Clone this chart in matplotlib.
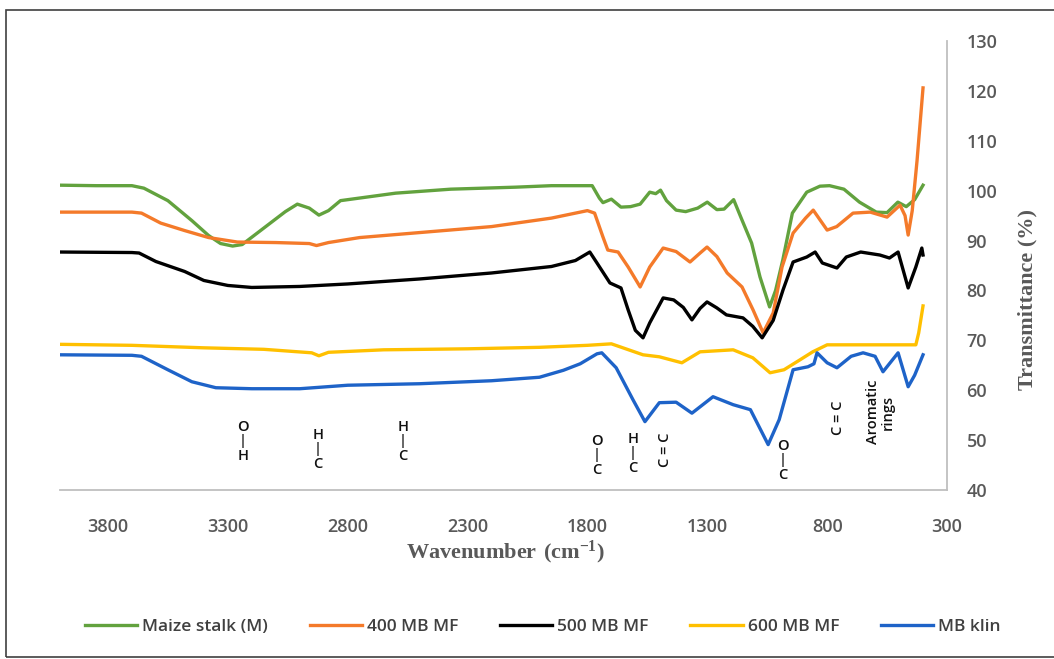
import matplotlib
matplotlib.use('Agg')
import matplotlib.pyplot as plt
from matplotlib.patches import Rectangle

plt.rcParams['font.family'] = ['Open Sans', 'DejaVu Sans']
plt.rcParams['mathtext.fontset'] = 'custom'
plt.rcParams['mathtext.rm'] = 'Liberation Serif:bold'
plt.rcParams['mathtext.bf'] = 'Liberation Serif:bold'

# ---- data (wavenumber cm-1, transmittance %) ----
maize_wn = [4000, 3850, 3700, 3650, 3550, 3450, 3380, 3330, 3280, 3240, 3150, 3060, 3010, 2960,
            2920, 2880, 2830, 2600, 2370, 2100, 1950, 1780, 1750, 1735, 1700, 1660, 1620, 1580,
            1540, 1515, 1495, 1470, 1430, 1390, 1340, 1300, 1260, 1230, 1190, 1155, 1115, 1080,
            1040, 1015, 985, 945, 885, 830, 790, 730, 665, 595, 550, 505, 470, 435, 400]
maize_t = [101.1, 101.0, 101.0, 100.5, 98, 94, 91, 89.4, 88.9, 89.2, 92.5, 95.8, 97.3, 96.5,
           95.1, 96, 98, 99.5, 100.3, 100.7, 101, 101, 98.5, 97.6, 98.3, 96.7, 96.8, 97.3,
           99.7, 99.4, 100.1, 98, 96.1, 95.8, 96.5, 97.7, 96.2, 96.3, 98.2, 94.1, 89.5, 82.7,
           76.7, 80, 86.1, 95.5, 99.7, 100.9, 101, 100.3, 97.7, 95.7, 95.6, 97.7, 96.8, 98.2, 101.1]

mf400_wn = [4000, 3700, 3660, 3580, 3480, 3380, 3260, 3100, 2960, 2930, 2880, 2750, 2500, 2200,
            1950, 1800, 1770, 1735, 1715, 1672, 1630, 1580, 1540, 1484, 1430, 1372, 1330, 1301,
            1260, 1217, 1155, 1109, 1067, 1025, 988, 942, 890, 858, 800, 760, 692, 620, 550,
            496, 475, 462, 445, 425, 400]
mf400_t = [95.7, 95.7, 95.5, 93.5, 92, 90.6, 89.7, 89.6, 89.4, 89.0, 89.6, 90.6, 91.6, 92.8,
           94.5, 96, 95.5, 90.7, 88.1, 87.7, 84.7, 80.7, 84.7, 88.5, 87.8, 85.7, 87.5, 88.7,
           86.8, 83.5, 80.7, 76.1, 71.5, 75.5, 84.7, 91.5, 94.5, 96.1, 92.1, 92.8, 95.5, 95.7, 94.7,
           97.1, 95, 91.1, 96, 106, 120.6]

mf500_wn = [4000, 3700, 3670, 3600, 3480, 3400, 3300, 3200, 3000, 2800, 2500, 2200, 1950, 1850,
            1790, 1760, 1706, 1660, 1630, 1600, 1568, 1540, 1484, 1440, 1400, 1364, 1330, 1301,
            1260, 1220, 1151, 1110, 1071, 1025, 984, 942, 885, 850, 820, 759, 720, 660, 580,
            540, 504, 462, 430, 405, 400]
mf500_t = [87.7, 87.6, 87.5, 85.8, 83.8, 82, 81, 80.6, 80.8, 81.3, 82.3, 83.5, 84.8, 86,
           87.7, 85.5, 81.5, 80.5, 76.1, 72, 70.5, 73.5, 78.5, 78.1, 76.6, 74.1, 76.4, 77.7,
           76.5, 75.1, 74.5, 72.8, 70.5, 74, 80.1, 85.7, 86.7, 87.7, 85.5, 84.5, 86.7, 87.7, 87.1,
           86.5, 87.7, 80.5, 84.7, 88.5, 87.1]

mf600_wn = [4000, 3700, 3400, 3150, 2950, 2920, 2880, 2650, 2300, 2000, 1800, 1700, 1568, 1500,
            1406, 1330, 1192, 1110, 1038, 980, 913, 860, 800, 650, 500, 430, 418, 400]
mf600_t = [69.2, 69.0, 68.5, 68.2, 67.5, 66.9, 67.6, 68.1, 68.3, 68.6, 69.0, 69.3, 67.1, 66.7,
           65.5, 67.7, 68.1, 66.5, 63.5, 64.1, 66.1, 67.7, 69.1, 69.1, 69.1, 69.1, 71.5, 76.9]

klin_wn = [4000, 3700, 3660, 3550, 3450, 3350, 3200, 3000, 2800, 2500, 2200, 2000, 1900, 1830,
           1760, 1740, 1680, 1610, 1560, 1500, 1430, 1364, 1276, 1192, 1120, 1046, 1000, 942,
           880, 855, 842, 800, 759, 700, 650, 600, 567, 504, 462, 435, 400]
klin_t = [67.1, 67.0, 66.8, 64.1, 61.7, 60.5, 60.3, 60.3, 61.0, 61.3, 61.9, 62.6, 64.0, 65.3,
          67.3, 67.5, 64.5, 58.1, 53.7, 57.5, 57.6, 55.4, 58.7, 57.1, 56.1, 49.1, 54.1, 64.1,
          64.7, 65.3, 67.5, 65.5, 64.5, 66.8, 67.5, 66.8, 63.7, 67.5, 60.7, 63.0, 67.1]

labels = ['Maize stalk (M)', '400 MB MF', '500 MB MF', '600 MB MF', 'MB klin']
colors = ['#62A23E', '#F47A2A', '#000000', '#FFC000', '#1E63C8']

x_ticks = [3800, 3300, 2800, 2300, 1800, 1300, 800, 300]
y_ticks = [40, 50, 60, 70, 80, 90, 100, 110, 120, 130]

# band labels: (text, wavenumber, transmittance, rotation)
bands = [('O\n|\nH', 3237, 49.8, 0),
         ('H\n|\nC', 2924, 48.2, 0),
         ('H\n|\nC', 2569, 49.8, 0),
         ('O\n|\nC', 1760, 47.0, 0),
         ('H\n|\nC', 1610, 47.4, 0),
         ('C = C', 1476, 48.0, 90),
         ('O\n|\nC', 984, 46.0, 0),
         ('C = C', 754, 54.4, 90),
         ('Aromatic\nrings', 579, 55.6, 90)]

fig = plt.figure(figsize=(10.54, 6.59), dpi=100)
ax = fig.add_axes([60 / 1054, 1 - 490 / 659, 887 / 1054, 449 / 659])

series = [(maize_wn, maize_t), (mf400_wn, mf400_t), (mf500_wn, mf500_t),
          (mf600_wn, mf600_t), (klin_wn, klin_t)]
for (wn, t), lab, col in zip(series, labels, colors):
    ax.plot(wn, t, color=col, lw=2.4, label=lab, solid_joinstyle='round')

ax.set_xlim(4000, 300)
ax.set_ylim(40, 130)
ax.set_xticks(x_ticks)
ax.set_yticks(y_ticks)
ax.yaxis.tick_right()
ax.tick_params(axis='both', length=0, labelsize=13, labelcolor='#595959')
ax.tick_params(axis='x', pad=20)
ax.tick_params(axis='y', pad=14)
for lbl in ax.get_xticklabels() + ax.get_yticklabels():
    lbl.set_fontweight('semibold')
for s in ['top', 'left']:
    ax.spines[s].set_visible(False)
for s in ['bottom', 'right']:
    ax.spines[s].set_color('#BFBFBF')
    ax.spines[s].set_linewidth(1.3)

for txt, x, y, rot in bands:
    ax.text(x, y, txt, ha='center', va='center', rotation=rot, fontsize=10.5,
            linespacing=1.05, color='#111111', fontweight='semibold')

fig.text(505 / 1054, 1 - 552 / 659, r'$\mathrm{Wavenumber\ (cm^{-1})}$', ha='center', va='center',
         fontsize=16, color='#595959')
fig.text(1027 / 1054, 1 - 300 / 659, 'Transmittance (%)', rotation=90, ha='center', va='center',
         fontsize=16, color='#595959', family=['Liberation Serif', 'DejaVu Serif'], weight='bold')

leg = fig.legend(loc='center', bbox_to_anchor=(0.515, 1 - 627 / 659), ncol=5, frameon=False,
                 fontsize=12.5, handlelength=3.0, handletextpad=0.3, columnspacing=2.4,
                 labelcolor='#404040')
for t in leg.get_texts():
    t.set_fontweight('semibold')

fig.patches.append(Rectangle((6 / 1054, 1 - 657 / 659), 1.1, 647 / 659, transform=fig.transFigure,
                             fill=False, edgecolor='#404040', lw=1.2))

fig.savefig('out.png', dpi=100)
